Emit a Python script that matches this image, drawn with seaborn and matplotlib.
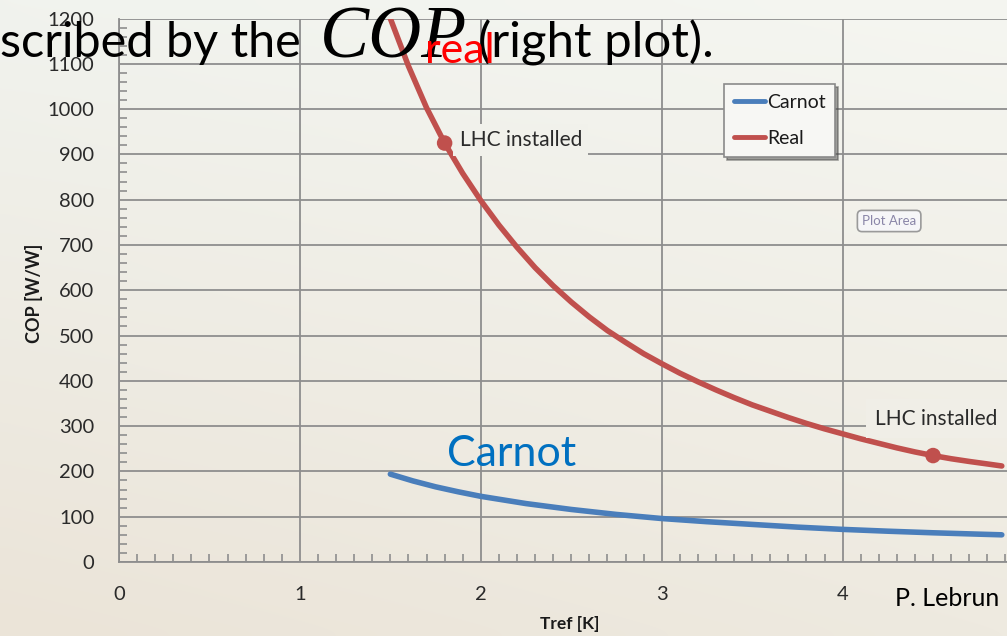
import numpy as np
import pandas as pd
import matplotlib
matplotlib.use("Agg")
import matplotlib.pyplot as plt
from matplotlib.ticker import MultipleLocator
import seaborn as sns

# Refrigeration temperature [K] and coefficient of performance [W/W]
carnot_T = [1.5, 1.625, 1.75, 1.875, 2.0, 2.25, 2.5, 2.75, 3.0, 3.25, 3.5, 3.75, 4.0,
            4.25, 4.5, 4.75, 4.88]
carnot_cop = [194, 179, 166, 155, 145, 129, 116, 105, 96, 89, 83, 77, 72, 68, 64.5, 61.5, 60]

real_T = [1.5, 1.6, 1.7, 1.8, 1.9, 2.0, 2.1, 2.2, 2.3, 2.4, 2.5, 2.6, 2.7, 2.8, 2.9, 3.0,
          3.1, 3.2, 3.3, 3.4, 3.5, 3.6, 3.7, 3.8, 3.9, 4.0, 4.1, 4.2, 4.3, 4.4, 4.5, 4.6,
          4.7, 4.8, 4.88]
real_cop = [1200, 1095, 1003, 925, 858, 798, 744, 695, 650, 610, 574, 541, 511, 485, 460,
            438, 417, 398, 380, 363, 347, 333, 319, 306, 294, 283, 272, 262, 252, 243, 235,
            228, 222, 216.5, 212]

# Operating points of the installed LHC plants
lhc_T = [1.8, 4.5]
lhc_cop = [925, 235]

x_ticks = [0, 1, 2, 3, 4]
y_ticks = list(range(0, 1300, 100))

W, H = 1007, 636
BLUE = "#4a7ebb"
RED = "#c0504d"
GRID = "#8e8e8e"


def fx(px):
    return px / W


def fy(py):
    return 1 - py / H


sns.set_theme(style="white")
plt.rcParams["font.family"] = ["Lato", "DejaVu Sans"]

fig = plt.figure(figsize=(W / 100, H / 100), dpi=100)

# slide background: soft parchment gradient
bg = fig.add_axes([0, 0, 1, 1], zorder=-10)
yy, xx = np.mgrid[0:1:64j, 0:1:100j]
tl = np.array([241, 243, 238]) / 255
tr = np.array([245, 246, 241]) / 255
bl = np.array([235, 228, 216]) / 255
br = np.array([238, 234, 224]) / 255
img = ((1 - yy)[..., None] * ((1 - xx)[..., None] * tl + xx[..., None] * tr)
       + yy[..., None] * ((1 - xx)[..., None] * bl + xx[..., None] * br))
bg.imshow(img, aspect="auto", extent=[0, 1, 0, 1], interpolation="bicubic")
bg.axis("off")

ax = fig.add_axes([fx(119), fy(562), fx(W) - fx(119), (562 - 18.5) / H])
ax.set_facecolor("none")

df_c = pd.DataFrame({"T": carnot_T, "COP": carnot_cop})
df_r = pd.DataFrame({"T": real_T, "COP": real_cop})
sns.lineplot(data=df_c, x="T", y="COP", ax=ax, color=BLUE, lw=4, label="Carnot",
             sort=False, estimator=None, zorder=4, solid_joinstyle="round")
sns.lineplot(data=df_r, x="T", y="COP", ax=ax, color=RED, lw=4, label="Real",
             sort=False, estimator=None, zorder=4, solid_joinstyle="round")
sns.scatterplot(x=lhc_T, y=lhc_cop, ax=ax, color=RED, s=125, edgecolor="none",
                zorder=5, legend=False)

ax.set_xlim(0, (W - 119) / 180.9)
ax.set_ylim(0, 1200)
ax.set_xticks(x_ticks)
ax.set_yticks(y_ticks)
ax.xaxis.set_minor_locator(MultipleLocator(0.1))
ax.yaxis.set_minor_locator(MultipleLocator(20))
ax.grid(True, which="major", color=GRID, lw=1.3)
ax.set_axisbelow(True)
for s in ["top", "right"]:
    ax.spines[s].set_visible(False)
for s in ["left", "bottom"]:
    ax.spines[s].set_color(GRID)
    ax.spines[s].set_linewidth(1.3)
ax.tick_params(which="major", direction="out", length=9, width=1.3, color=GRID,
               labelsize=14.5, labelcolor="#2a2a2a")
ax.tick_params(axis="x", which="major", pad=8)
ax.tick_params(axis="y", which="major", pad=9)
ax.tick_params(which="minor", direction="in", length=5.5, width=1.2, color=GRID)
ax.tick_params(which="minor", bottom=True, left=True)

ax.set_xlabel("Tref [K]", fontsize=12.5, fontweight="bold", color="#1a1a1a")
ax.set_ylabel("COP [W/W]", fontsize=13, fontweight="bold", color="#1a1a1a")
ax.xaxis.set_label_coords((570 - 119) / (W - 119), -(616 - 562) / (562 - 18.5))
ax.yaxis.set_label_coords(-(119 - 43) / (W - 119), (562 - 293) / (562 - 18.5))

# labels of the LHC operating points
ax.annotate("LHC installed", xy=(lhc_T[0], lhc_cop[0]), xytext=(15, 3),
            textcoords="offset pixels", va="center", ha="left", fontsize=15,
            color="#2a2a2a", zorder=6,
            bbox=dict(boxstyle="square,pad=0.3", facecolor="#f1f1eb", edgecolor="none"))
ax.annotate("LHC installed", xy=(lhc_T[1], lhc_cop[1]), xytext=(-58, 37),
            textcoords="offset pixels", va="center", ha="left", fontsize=15,
            color="#2a2a2a", zorder=6,
            bbox=dict(boxstyle="square,pad=0.45", facecolor="#f0eee7", edgecolor="none"))

leg = ax.legend(loc="upper left", bbox_to_anchor=(fx(724), fy(84)),
                bbox_transform=fig.transFigure, borderaxespad=0, frameon=True,
                fancybox=False, shadow=True, fontsize=14, handlelength=1.6,
                handletextpad=0.1, borderpad=0.5, labelspacing=1.0)
leg.get_frame().set_edgecolor("#8a8a8a")
leg.get_frame().set_facecolor("#f7f7f4")
leg.get_frame().set_linewidth(1.2)
for h in leg.get_lines():
    h.set_linewidth(3.5)
for t in leg.get_texts():
    t.set_color("#1a1a1a")

# chart tooltip
fig.text(fx(862), fy(221), "Plot Area", fontsize=9.5, color="#8a86a8", va="center",
         ha="left", bbox=dict(boxstyle="round,pad=0.35", facecolor="#f6f6f8",
                              edgecolor="#9a9a9a", lw=1.2))

# slide text over the chart
fig.text(fx(0), fy(57), "scribed by the ", fontsize=35, color="black", va="baseline")
fig.text(fx(320), fy(57), "COP", fontsize=53, family="Liberation Serif",
         style="italic", color="black", va="baseline")
fig.text(fx(478), fy(57), "(right plot).", fontsize=35.5, color="black", va="baseline")
fig.text(fx(425), fy(63), "real", fontsize=31, color="#ff0000", va="baseline")

fig.text(fx(447), fy(466), "Carnot", fontsize=31, color="#0070c0", va="baseline")
fig.text(fx(895), fy(606), "P. Lebrun", fontsize=18, color="black", va="baseline")

fig.savefig("out.png", dpi=100)
